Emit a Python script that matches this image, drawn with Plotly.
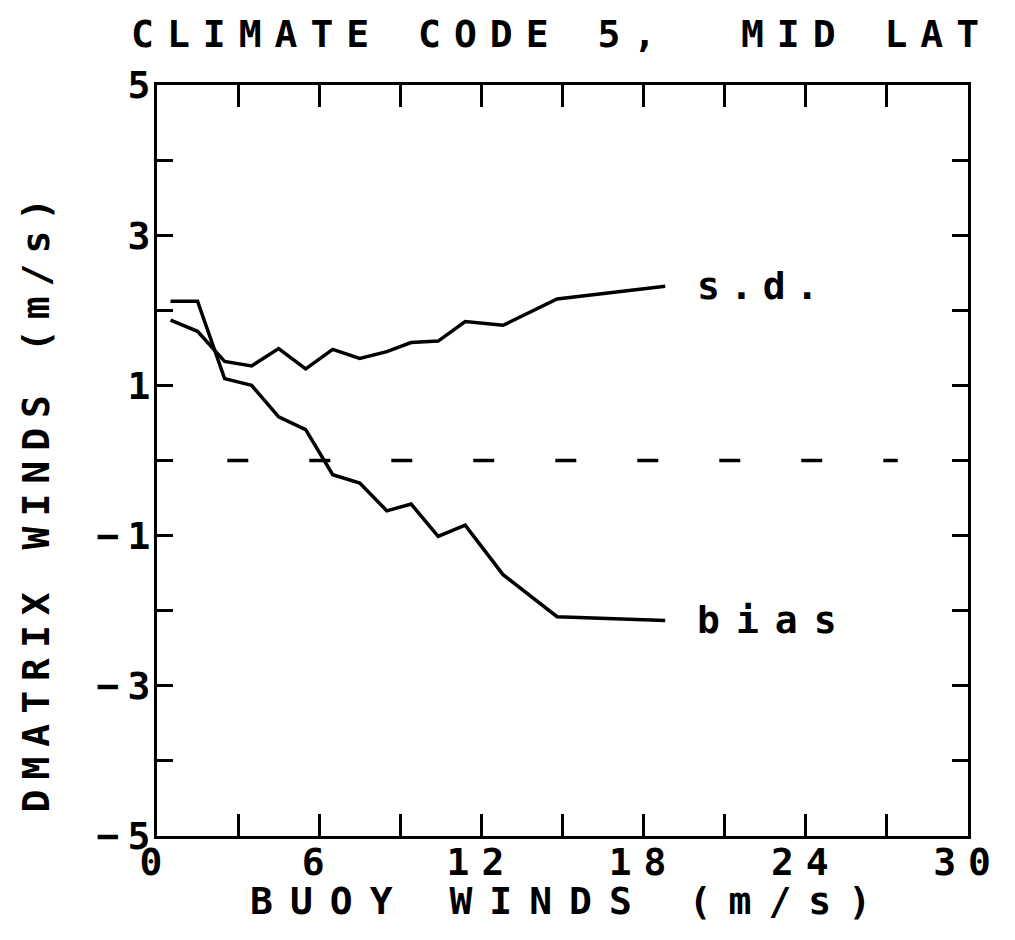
import plotly.graph_objects as go

# ---- data ----
wind_x = [0.5, 1.5, 2.5, 3.5, 4.5, 5.5, 6.5, 7.5, 8.5, 9.4, 10.4, 11.4, 12.8, 14.8, 18.8]
bias = [2.12, 2.12, 1.09, 1.00, 0.58, 0.41, -0.19, -0.30, -0.67, -0.58, -1.01, -0.86, -1.52, -2.08, -2.13]
sd = [1.87, 1.72, 1.32, 1.26, 1.49, 1.22, 1.48, 1.36, 1.45, 1.57, 1.59, 1.85, 1.80, 2.15, 2.32]
zero_x = [2.6, 27.4]
zero_y = [0, 0]

x_tickvals = [0, 3, 6, 9, 12, 15, 18, 21, 24, 27, 30]
x_ticktext = ["0", "", "6", "", "12", "", "18", "", "24", "", "30"]
y_tickvals = [-5, -4, -3, -2, -1, 0, 1, 2, 3, 4, 5]
y_ticktext = ["−5", "", "−3", "", "−1", "", "1", "", "3", "", "5"]

title_text = "CLIMATE CODE 5,\u00a0 MID LAT"
x_title = "BUOY WINDS (m/s)"
y_title = "DMATRIX WINDS (m/s)"

FONT = "DejaVu Sans Mono"


def spaced(s, ls):
    return f"<span style='letter-spacing:{ls}px'>{s}</span>"


def ytick(t):
    if t.startswith("−"):
        return "<span style='letter-spacing:8px'>−</span>" + t[1:]
    return t


fig = go.Figure()
fig.add_trace(go.Scatter(x=zero_x, y=zero_y, mode="lines",
                         line=dict(color="black", width=3.5, dash="21px,61px"),
                         showlegend=False, hoverinfo="skip"))
fig.add_trace(go.Scatter(x=wind_x, y=sd, mode="lines",
                         line=dict(color="black", width=3.5), showlegend=False))
fig.add_trace(go.Scatter(x=wind_x, y=bias, mode="lines",
                         line=dict(color="black", width=3.5), showlegend=False))

axis_common = dict(showline=True, linecolor="black", linewidth=3, mirror="allticks",
                   ticks="inside", tickcolor="black", tickwidth=2.5,
                   showgrid=False, zeroline=False,
                   tickfont=dict(family=FONT, size=38, color="black", weight="bold"))

fig.update_xaxes(range=[0, 30], tickmode="array", tickvals=x_tickvals,
                 ticktext=[spaced(t, 12) if t else "" for t in x_ticktext],
                 ticklen=22, ticklabelstandoff=-10, **axis_common)
fig.update_yaxes(range=[-5, 5], tickmode="array", tickvals=y_tickvals,
                 ticktext=[ytick(t) for t in y_ticktext],
                 ticklen=16, ticklabelstandoff=-4, **axis_common)

ann_font = dict(family=FONT, size=38, color="black", weight="bold")
fig.add_annotation(text=spaced(title_text, 13), xref="paper", yref="paper",
                   x=0.499, y=1.068, xanchor="center", yanchor="middle",
                   showarrow=False, font=ann_font)
fig.add_annotation(text=spaced(x_title, 17), xref="paper", yref="paper",
                   x=0.508, y=-0.087, xanchor="center", yanchor="middle",
                   showarrow=False, font=ann_font)
fig.add_annotation(text=spaced(y_title, 10), xref="paper", yref="paper",
                   x=-0.149, y=0.447, xanchor="center", yanchor="middle",
                   textangle=-90, showarrow=False, font=ann_font)
fig.add_annotation(text=spaced("s.d.", 10), x=19.9, y=sd[-1], xanchor="left",
                   yanchor="middle", showarrow=False, font=ann_font)
fig.add_annotation(text=spaced("bias", 16), x=19.9, y=bias[-1], xanchor="left",
                   yanchor="middle", showarrow=False, font=ann_font)

fig.update_layout(width=1015, height=940,
                  margin=dict(l=157, r=40, t=85, b=104),
                  plot_bgcolor="white", paper_bgcolor="white",
                  showlegend=False)

fig.write_html("out.html")
